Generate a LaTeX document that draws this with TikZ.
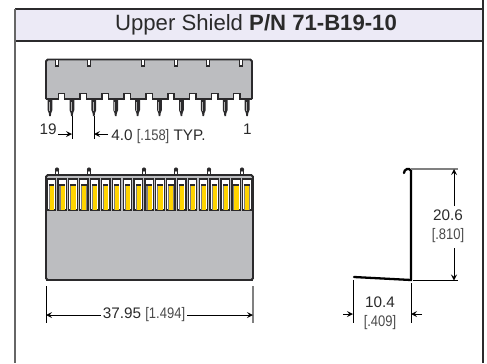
\documentclass[tikz,border=0pt]{standalone}
\usepackage{fontspec}
\setmainfont{Liberation Sans}
\newfontfamily\narrowfont[FakeStretch=0.85]{Liberation Sans}
\usepackage{xcolor}
\usetikzlibrary{calc}
\definecolor{headerfill}{HTML}{ECEAF6}
\definecolor{bodygray}{HTML}{BCBDC0}
\definecolor{darkline}{HTML}{2B2A2C}
\definecolor{slotyellow}{HTML}{FFD400}
\definecolor{textgray}{HTML}{2A2A2A}
\definecolor{bracketgray}{HTML}{4A4A4A}
\tikzset{
  dimline/.style={draw=black, line width=0.5pt},
  dimarrow/.style={draw=black, line width=0.5pt, ->, >=stealth},
  dimtext/.style={text=textgray, font=\fontsize{8.7}{10}\selectfont, inner sep=0pt},
  bodyline/.style={draw=darkline, line width=1.1pt},
}
\newcommand{\bracket}[1]{{\narrowfont\color{bracketgray}#1}}

\begin{document}
\begin{tikzpicture}[x=0.02cm, y=-0.02cm]
    \useasboundingbox (0,0) rectangle (487,363);

    % Frame and header
    \fill[headerfill] (15,9) rectangle (483,41);
    \draw[darkline, line width=0.8pt] (15,9) -- (483,9);
    \draw[darkline, line width=0.8pt] (15,41) -- (483,41);
    \draw[gray!80!black, line width=1.1pt] (15,8.5) -- (15,363);
    \draw[darkline, line width=1.4pt] (483,0) -- (483,363);
    \node[text=textgray, font=\fontsize{12.6}{15}\selectfont, inner sep=0pt] (title) at (256,25)
        {Upper Shield \textbf{P/N 71-B19-10}};

    % Pins of the upper view
    \foreach \i in {0,...,9} {
        \pgfmathsetmacro{\px}{50+21.9*\i}
        \fill[darkline] (\px-2.4,100) -- (\px+2.4,100) -- (\px+2.4,110) -- (\px+1.2,113) -- (\px+0.8,116)
            -- (\px-0.8,116) -- (\px-1.2,113) -- (\px-2.4,110) -- cycle;
        \draw[gray!60, line width=0.5pt] (\px-0.8,102) -- (\px-0.8,111);
    }

    % Upper view body
    \fill[bodygray] (46,59) rectangle (252,99);
    \draw[bodyline, rounded corners=1pt] (46,99) -- (46,59.5) -- (252,59.5) -- (252,99);
    \draw[bodyline] (46,99) -- (252,99);
    \foreach \x in {57,89,143,176,208,241} {
        \fill[white] (\x-1.5,59.5) rectangle (\x+1.5,66);
        \draw[darkline, line width=0.6pt] (\x-1.8,60) -- (\x-1.8,66) -- (\x+1.8,66) -- (\x+1.8,60);
    }
    \foreach \i in {0,...,8} {
        \pgfmathsetmacro{\nx}{61.5+21.9*\i}
        \fill[white] (\nx-3.2,93.5) rectangle (\nx+3.2,100.5);
        \draw[darkline, line width=0.8pt] (\nx-3.2,100) -- (\nx-3.2,93.5) -- (\nx+3.2,93.5) -- (\nx+3.2,100);
    }

    % Pitch dimension
    \coordinate (pitchA) at (72,116);
    \coordinate (pitchB) at (94,116);
    \draw[dimline] (pitchA) -- ++(0,23);
    \draw[dimline] (pitchB) -- ++(0,23);
    \draw[dimarrow] (58,134) -- (72,134);
    \draw[dimarrow] (108,134) -- (94,134);
    \node[dimtext, anchor=east] (pinlast) at (57,129) {19};
    \node[dimtext, anchor=east] (pinfirst) at (252,129.5) {1};
    \node[dimtext, anchor=west] (pitch) at (111,137) {4.0 \bracket{[.158]} TYP.};

    % Tabs of the lower view
    \foreach \x in {57,89,144,176,209,242} {
        \fill[white] (\x-1.5,170) rectangle (\x+1.5,175);
        \draw[darkline, line width=0.7pt] (\x-1.8,176) -- (\x-1.8,170) -- (\x+1.8,170) -- (\x+1.8,176);
        \fill[darkline] (\x,169.5) circle (2.1);
    }

    % Lower view body
    \draw[bodyline, fill=bodygray, rounded corners=1pt] (46,175) rectangle (253,280);
    \draw[darkline, line width=1.4pt] (46,280) -- (253,280);
    \foreach \i in {0,...,18} {
        \pgfmathsetmacro{\sx}{51.3+10.87*\i}
        \draw[darkline, line width=0.75pt, fill=white] (\sx-4.2,179) rectangle (\sx+4.2,210);
        \fill[gray] (\sx-2.7,184) rectangle (\sx+2.7,209.5);
        \fill[slotyellow] (\sx-1.6,186) rectangle (\sx+2.5,209.5);
        \fill[darkline] (\sx-2.7,184) rectangle (\sx+2.7,186);
    }

    % Width dimension
    \node[dimtext] (widthdim) at (144,315) {37.95 \bracket{[1.494]}};
    \coordinate (widthL) at (46,315);
    \coordinate (widthR) at (253,315);
    \draw[dimline] (46,286) -- (46,323);
    \draw[gray, line width=0.9pt] (253,286) -- (253,323);
    \draw[dimarrow] (widthdim.west) ++(-2,0) -- (widthL);
    \draw[dimarrow] (widthdim.east) ++(2,0) -- (widthR);

    % Side profile
    \draw[black, line width=1.3pt, line cap=round]
        (404,173) .. controls (404,169) and (409,167.5) .. (411,170.5) -- (411,280) -- (354,277);

    % Height dimension
    \node[dimtext, align=center] (heightdim) at (448,226)
        {20.6\\[1pt]\bracket{[.810]}};
    \draw[gray, line width=0.7pt] (411,169) -- (458,169);
    \draw[dimline] (413,280.5) -- (458,280.5);
    \coordinate (heightT) at (454,169);
    \coordinate (heightB) at (454,280.5);
    \draw[dimarrow] (454,206) -- (heightT);
    \draw[dimarrow] (454,248) -- (heightB);

    % Depth dimension
    \node[dimtext, align=center] (depthdim) at (380,313)
        {10.4\\[1pt]\bracket{[.409]}};
    \draw[dimline] (353,280) -- (353,323);
    \draw[dimline] (411,283) -- (411,323);
    \draw[dimarrow] (343,314) -- (353,314);
    \draw[dimarrow] (422,314) -- (411,314);
\end{tikzpicture}
\end{document}
